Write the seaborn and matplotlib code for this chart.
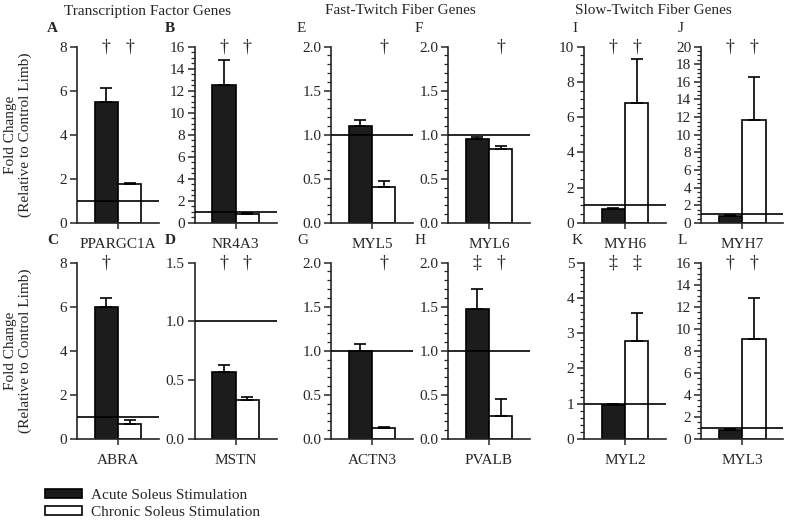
import pandas as pd
import seaborn as sns
import matplotlib.pyplot as plt
from matplotlib.patches import Patch
from matplotlib.ticker import MultipleLocator, FormatStrFormatter

# panel letters, genes, means, upper error and significance marks
letters = ["A", "B", "E", "F", "I", "J", "C", "D", "G", "H", "K", "L"]
genes = ["PPARGC1A", "NR4A3", "MYL5", "MYL6", "MYH6", "MYH7",
         "ABRA", "MSTN", "ACTN3", "PVALB", "MYL2", "MYL3"]
acute = [5.5, 12.5, 1.10, 0.95, 0.82, 0.80, 6.0, 0.57, 1.00, 1.47, 0.95, 0.80]
chronic = [1.75, 0.80, 0.41, 0.84, 6.8, 11.7, 0.70, 0.33, 0.12, 0.26, 2.78, 9.1]
acute_err = [0.60, 2.30, 0.07, 0.03, 0.04, 0.10, 0.40, 0.06, 0.08, 0.23, 0.03, 0.07]
chronic_err = [0.07, 0.10, 0.07, 0.03, 2.5, 4.9, 0.15, 0.03, 0.02, 0.19, 0.80, 3.7]
acute_sig = ["†", "†", "", "", "†", "†", "†", "†", "", "‡", "‡", "†"]
chronic_sig = ["†", "†", "†", "†", "†", "†", "", "†", "†", "†", "‡", "†"]
ymax = [8, 16, 2.0, 2.0, 10, 20, 8, 1.5, 2.0, 2.0, 5, 16]
ystep = [2, 2, 0.5, 0.5, 2, 2, 2, 0.5, 0.5, 0.5, 1, 2]
yminor = [None, 0.5, 0.1, 0.1, 0.5, 0.5, None, None, 0.1, 0.1, 0.2, 0.5]
conditions = ["Acute Soleus Stimulation", "Chronic Soleus Stimulation"]
titles = ["Transcription Factor Genes", "Fast-Twitch Fiber Genes", "Slow-Twitch Fiber Genes"]

sns.set_style("ticks")
plt.rcParams['font.family'] = 'serif'
plt.rcParams['font.serif'] = ['Liberation Serif', 'DejaVu Serif']
plt.rcParams['axes.linewidth'] = 1.2

fig = plt.figure(figsize=(7.86, 5.22), dpi=100)

lefts = [0.098, 0.2475, 0.4211, 0.570, 0.743, 0.892]
bottoms = [0.5728, 0.159]
w, h = 0.1043, 0.338
palette = {conditions[0]: "#1c1c1c", conditions[1]: "white"}

for i in range(12):
    row, col = divmod(i, 6)
    ax = fig.add_axes([lefts[col], bottoms[row], w, h])
    df = pd.DataFrame({"gene": [genes[i]] * 2, "cond": conditions,
                       "fold": [acute[i], chronic[i]]})
    sns.barplot(data=df, x="gene", y="fold", hue="cond", hue_order=conditions,
                palette=palette, edgecolor="black", linewidth=1.2,
                errorbar=None, legend=False, ax=ax, zorder=2)
    bars = ax.patches[:2]
    for bar, m, e, s in zip(bars, [acute[i], chronic[i]],
                            [acute_err[i], chronic_err[i]],
                            [acute_sig[i], chronic_sig[i]]):
        xc = bar.get_x() + bar.get_width() / 2
        ax.errorbar(xc, m, yerr=[[0], [e]], fmt="none", ecolor="black",
                    elinewidth=1.2, capsize=4, capthick=1.2, zorder=3)
        if s:
            ax.text(xc, ymax[i], s, ha="center", va="center", fontsize=13)
    ax.axhline(1, color="black", lw=1.2, zorder=5)
    ax.set_xlim(-0.7, 0.7)
    ax.set_ylim(0, ymax[i])
    ax.yaxis.set_major_locator(MultipleLocator(ystep[i]))
    if yminor[i]:
        ax.yaxis.set_minor_locator(MultipleLocator(yminor[i]))
    if ystep[i] < 1:
        ax.yaxis.set_major_formatter(FormatStrFormatter("%.1f"))
    ax.set_xticks([0])
    ax.set_xticklabels([])
    ax.set_xlabel(genes[i], fontsize=11, labelpad=3)
    ax.set_ylabel("")
    ax.tick_params(axis="y", which="major", length=5, width=1.1, labelsize=11, pad=2)
    ax.tick_params(axis="y", which="minor", length=3, width=0.9)
    ax.tick_params(axis="x", length=4, width=1.1)
    sns.despine(ax=ax)
    ax.set_facecolor("none")
    weight = "bold" if letters[i] in "ABCD" else "normal"
    lx = [47, 165, 297, 415, 572, 678][col]
    ly = [29, 241][row]
    fig.text(lx / 786, 1 - ly / 522, letters[i], fontsize=11, fontweight=weight,
             va="center", ha="left")

for x, t in zip([147, 400, 653], titles):
    fig.text(x / 786, 1 - 11 / 522, t, fontsize=11, ha="center", va="center")

for y in [134.5, 351]:
    fig.text(18 / 786, 1 - y / 522, "Fold Change\n(Relative to Control Limb)",
             rotation=90, ha="center", va="center", fontsize=11, linespacing=1.1)

handles = [Patch(facecolor=palette[c], edgecolor="black", linewidth=1.2, label=c)
           for c in conditions]
fig.legend(handles=handles, loc="upper left", bbox_to_anchor=(0.05, 0.075),
           frameon=False, fontsize=11, handlelength=2.4, handleheight=0.55,
           labelspacing=0.25, handletextpad=0.6, borderaxespad=0)

plt.savefig("out.png", dpi=100)
plt.close()
